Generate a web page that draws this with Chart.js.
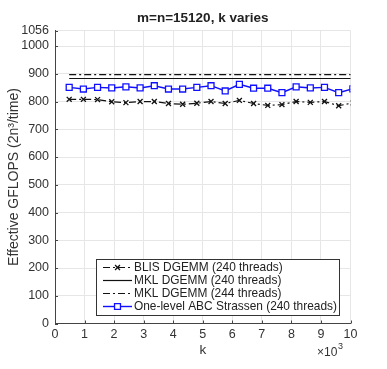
<!DOCTYPE html>
<html>
<head>
<meta charset="utf-8">
<script src="https://cdn.jsdelivr.net/npm/chart.js@4.4.1/dist/chart.umd.min.js"></script>
<style>
  html, body { margin: 0; padding: 0; background: #fff; }
  #wrap { width: 387px; height: 369px; }
</style>
</head>
<body>
<div id="wrap"><canvas id="chart" width="387" height="369"></canvas></div>
<script>
// Values
const kValues = [480, 960, 1440, 1920, 2400, 2880, 3360, 3840, 4320, 4800,
  5280, 5760, 6240, 6720, 7200, 7680, 8160, 8640, 9120, 9600, 10080];
const blisData = [808, 808, 807, 799, 796, 800, 800, 793, 790, 794,
  800, 793, 804, 793, 786, 789, 800, 797, 800, 785, 795];
const mkl240Data = [883, 883, 883, 883, 883, 883, 883, 883, 883, 883,
  883, 883, 883, 883, 883, 883, 883, 883, 883, 883, 883];
const mkl244Data = [897, 897, 897, 897, 897, 897, 897, 897, 897, 897,
  897, 897, 897, 897, 897, 897, 897, 897, 897, 897, 897];
const strassenData = [851, 845, 851, 849, 853, 849, 857, 845, 845, 851,
  857, 838, 862, 848, 848, 832, 853, 849, 851, 832, 846];
const yTicks = [0, 100, 200, 300, 400, 500, 600, 700, 800, 900, 1000, 1056];
const seriesLabels = ['BLIS DGEMM (240 threads)', 'MKL DGEMM (240 threads)',
  'MKL DGEMM (244 threads)', 'One-level ABC Strassen (240 threads)'];

const FONT = '"Liberation Sans", Arial, sans-serif';
const dashDot = [7, 3, 2, 3];

function toPoints(arr) {
  return kValues.map((k, i) => ({ x: k, y: arr[i] }));
}

// titles, inward ticks and the legend box
const extrasPlugin = {
  id: 'extras',
  afterDraw(chart) {
    const ctx = chart.ctx;
    const area = chart.chartArea;
    const xs = chart.scales.x, ys = chart.scales.y;
    ctx.save();

    // inward tick marks
    ctx.strokeStyle = '#444';
    ctx.lineWidth = 1;
    ctx.beginPath();
    yTicks.forEach(v => {
      const y = Math.round(ys.getPixelForValue(v)) + 0.5;
      ctx.moveTo(area.left, y);
      ctx.lineTo(area.left + 3, y);
    });
    for (let v = 0; v <= 10000; v += 1000) {
      const x = Math.round(xs.getPixelForValue(v)) + 0.5;
      ctx.moveTo(x, area.bottom);
      ctx.lineTo(x, area.bottom - 3);
    }
    ctx.stroke();

    // title
    ctx.fillStyle = '#222';
    ctx.textAlign = 'center';
    ctx.textBaseline = 'middle';
    ctx.font = 'bold 13.5px ' + FONT;
    ctx.fillText('m=n=15120, k varies', (area.left + area.right) / 2, 18);

    // x label + exponent
    ctx.font = '13.5px ' + FONT;
    ctx.fillStyle = '#333';
    ctx.fillText('k', (area.left + area.right) / 2, 350);
    ctx.textAlign = 'left';
    ctx.font = '12px ' + FONT;
    ctx.fillText('\u00d710', 317, 353);
    ctx.font = '9px ' + FONT;
    ctx.fillText('3', 338, 347);

    // y label
    ctx.save();
    ctx.translate(14, (area.top + area.bottom) / 2);
    ctx.rotate(-Math.PI / 2);
    ctx.textAlign = 'center';
    ctx.font = '14px ' + FONT;
    ctx.fillText('Effective GFLOPS (2n\u00b3/time)', 0, 0);
    ctx.restore();

    // legend
    const bx = 96.5, by = 259.5, bw = 243, bh = 56;
    ctx.fillStyle = '#fff';
    ctx.fillRect(bx, by, bw, bh);
    ctx.strokeStyle = '#333';
    ctx.lineWidth = 1;
    ctx.strokeRect(bx, by, bw, bh);
    const rows = [267.5, 280.5, 293.5, 306.5];
    chart.data.datasets.forEach((ds, i) => {
      const y = rows[i];
      ctx.save();
      ctx.strokeStyle = ds.borderColor;
      ctx.lineWidth = ds.borderWidth;
      ctx.setLineDash(ds.borderDash || []);
      ctx.beginPath();
      ctx.moveTo(103, y);
      ctx.lineTo(132, y);
      ctx.stroke();
      ctx.setLineDash([]);
      if (ds.pointRadius > 0) {
        ctx.fillStyle = ds.pointBackgroundColor;
        ctx.strokeStyle = ds.borderColor;
        ctx.lineWidth = ds.pointBorderWidth;
        ctx.beginPath();
        if (ds.pointStyle === 'rect') {
          const r = ds.pointRadius * Math.SQRT1_2;
          ctx.rect(117.5 - r, y - r, r * 2, r * 2);
          ctx.fill();
          ctx.stroke();
        } else {
          const r = ds.pointRadius * 0.7;
          ctx.moveTo(117.5 - r, y - r); ctx.lineTo(117.5 + r, y + r);
          ctx.moveTo(117.5 + r, y - r); ctx.lineTo(117.5 - r, y + r);
          ctx.stroke();
        }
      }
      ctx.restore();
      ctx.fillStyle = '#222';
      ctx.textAlign = 'left';
      ctx.textBaseline = 'middle';
      ctx.font = '11.9px ' + FONT;
      ctx.fillText(seriesLabels[i], 134, y);
    });

    ctx.restore();
  }
};

new Chart(document.getElementById('chart').getContext('2d'), {
  type: 'line',
  data: {
    datasets: [
      {
        label: seriesLabels[0],
        data: toPoints(blisData),
        borderColor: '#111',
        borderWidth: 1.2,
        borderDash: dashDot,
        pointStyle: 'crossRot',
        pointRadius: 3.5,
        pointBorderWidth: 1.3,
        pointBackgroundColor: '#111',
        tension: 0
      },
      {
        label: seriesLabels[1],
        data: toPoints(mkl240Data),
        borderColor: '#111',
        borderWidth: 1.2,
        pointRadius: 0,
        tension: 0
      },
      {
        label: seriesLabels[2],
        data: toPoints(mkl244Data),
        borderColor: '#111',
        borderWidth: 1.2,
        borderDash: dashDot,
        pointRadius: 0,
        tension: 0
      },
      {
        label: seriesLabels[3],
        data: toPoints(strassenData),
        borderColor: '#1010ff',
        borderWidth: 1.4,
        pointStyle: 'rect',
        pointRadius: 4.2,
        pointBorderWidth: 1.3,
        pointBackgroundColor: '#fff',
        tension: 0
      }
    ]
  },
  options: {
    responsive: false,
    animation: false,
    layout: { padding: { left: 0, top: 30.5, right: 36.5, bottom: 0 } },
    plugins: {
      legend: { display: false },
      title: { display: false },
      tooltip: { enabled: false }
    },
    scales: {
      x: {
        type: 'linear',
        min: 0,
        max: 10000,
        afterFit: s => { s.height = 45.5; },
        ticks: {
          stepSize: 1000,
          autoSkip: false,
          maxRotation: 0,
          padding: 4,
          color: '#333',
          font: { family: FONT, size: 12.5 },
          callback: v => String(v / 1000)
        },
        grid: { color: '#e6e6e6', drawTicks: false },
        border: { color: '#444', width: 1 }
      },
      y: {
        min: 0,
        max: 1056,
        afterFit: s => { s.width = 55; },
        afterBuildTicks: s => { s.ticks = yTicks.map(v => ({ value: v })); },
        ticks: {
          autoSkip: false,
          padding: 6,
          color: '#333',
          font: { family: FONT, size: 12.5 },
          callback: v => String(v)
        },
        grid: { color: '#e6e6e6', drawTicks: false },
        border: { color: '#444', width: 1 }
      }
    }
  },
  plugins: [extrasPlugin]
});
</script>
</body>
</html>
